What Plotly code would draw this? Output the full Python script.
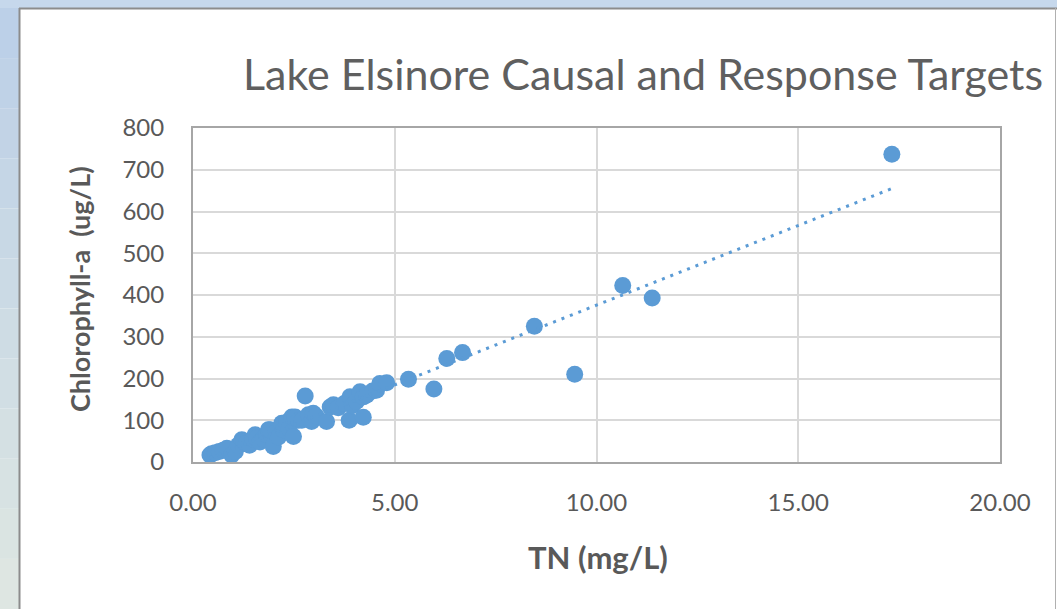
import numpy as np
import plotly.graph_objects as go

# ---- data ----
tn = [0.42, 0.46, 0.55, 0.65, 0.75, 0.84, 0.96, 1.05, 1.12, 1.21, 1.25, 1.32, 1.40,
      1.48, 1.54, 1.58, 1.66, 1.74, 1.82, 1.87, 1.91, 1.99, 2.05, 2.12, 2.20, 2.24,
      2.32, 2.38, 2.45, 2.49, 2.53, 2.62, 2.70, 2.78, 2.86, 2.94, 2.98, 3.05, 3.31,
      3.40, 3.48, 3.60, 3.75, 3.87, 3.89, 3.95, 4.05, 4.14, 4.22, 4.22, 4.30, 4.45,
      4.55, 4.63, 4.80, 5.34, 5.97, 6.29, 6.68, 8.46, 9.46, 10.65, 11.38, 17.32]
chla = [17, 20, 22, 25, 28, 33, 17, 25, 40, 53, 49, 45, 40,
        55, 65, 57, 48, 55, 65, 77, 77, 37, 70, 60, 93, 77,
        95, 80, 108, 61, 108, 100, 100, 158, 113, 97, 117, 110, 97,
        132, 137, 130, 140, 100, 156, 135, 145, 168, 107, 156, 160, 170,
        172, 188, 190, 198, 175, 248, 262, 325, 210, 423, 393, 737]

x_ticks = [0, 5, 10, 15, 20]
x_tick_labels = ["0.00", "5.00", "10.00", "15.00", "20.00"]
y_ticks = [0, 100, 200, 300, 400, 500, 600, 700, 800]

title_text = "Lake Elsinore Causal and Response Targets"
x_title = "TN (mg/L)"
y_title = "Chlorophyll-a&nbsp;&nbsp;(ug/L)"

# ---- linear trendline computed from data ----
slope, intercept = np.polyfit(tn, chla, 1)
trend_x = np.array([min(tn), max(tn)])
trend_y = slope * trend_x + intercept

BLUE = "#5B9BD5"
GREY_TXT = "#595959"
FONT = "Lato"

fig = go.Figure()
fig.add_trace(go.Scatter(x=tn, y=chla, mode="markers",
                         marker=dict(size=17, color=BLUE, line=dict(width=0)),
                         showlegend=False, hoverinfo="skip"))
fig.add_trace(go.Scatter(x=trend_x, y=trend_y, mode="lines",
                         line=dict(color=BLUE, width=3, dash="3px,6px"),
                         showlegend=False, hoverinfo="skip"))

W, H = 1057, 609
L, R, T, B = 193, 1000, 128, 462
pw, ph = R - L, B - T

def px(xp):
    return (xp - L) / pw

def py(yp):
    return (B - yp) / ph

shapes = []
# outer frame (window background gradient), left and top strips
n = 12
for i in range(n):
    y0p = 8 + (H - 8) * i / n
    y1p = 8 + (H - 8) * (i + 1) / n
    t = i / (n - 1)
    c0 = np.array([188, 208, 232])
    c1 = np.array([222, 230, 226])
    c = (c0 * (1 - t) + c1 * t).astype(int)
    shapes.append(dict(type="rect", xref="paper", yref="paper",
                       x0=px(0), x1=px(19), y0=py(y1p), y1=py(y0p),
                       fillcolor="rgb(%d,%d,%d)" % tuple(c), line=dict(width=0), layer="below"))
shapes.append(dict(type="rect", xref="paper", yref="paper",
                   x0=px(0), x1=px(W), y0=py(8), y1=py(0),
                   fillcolor="#c6d8ec", line=dict(width=0), layer="below"))
# chart area border
shapes.append(dict(type="line", xref="paper", yref="paper",
                   x0=px(19.5), x1=px(19.5), y0=py(H), y1=py(8),
                   line=dict(color="#8c8c8c", width=2)))
shapes.append(dict(type="line", xref="paper", yref="paper",
                   x0=px(19), x1=px(W), y0=py(8.5), y1=py(8.5),
                   line=dict(color="#8c8c8c", width=2)))
shapes.append(dict(type="line", xref="paper", yref="paper",
                   x0=px(1055.5), x1=px(1055.5), y0=py(H), y1=py(8),
                   line=dict(color="#b0b0b0", width=1)))

annotations = [
    dict(text=y_title, xref="paper", yref="paper", x=px(79), y=py(289),
         textangle=-90, showarrow=False, xanchor="center", yanchor="middle",
         font=dict(family=FONT, size=27, color=GREY_TXT, weight="bold")),
    dict(text=x_title, xref="paper", yref="paper", x=px(598), y=py(557),
         showarrow=False, xanchor="center", yanchor="middle",
         font=dict(family=FONT, size=31, color=GREY_TXT, weight="bold")),
]

fig.update_layout(
    width=W, height=H,
    margin=dict(l=L, r=W - R, t=T, b=H - B, pad=0),
    paper_bgcolor="white", plot_bgcolor="white",
    title=dict(text=title_text, x=643 / W, y=1 - 75 / H, xref="container", yref="container",
               xanchor="center", yanchor="middle",
               font=dict(family=FONT, size=43, color="#5f5f5f")),
    xaxis=dict(range=[0, 20], tickvals=x_ticks, ticktext=x_tick_labels,
               showgrid=True, gridcolor="#d9d9d9", gridwidth=1.5,
               showline=True, linecolor="#a6a6a6", linewidth=2, mirror=True,
               zeroline=False, ticks="", ticklabelstandoff=18,
               tickfont=dict(family=FONT, size=24, color=GREY_TXT)),
    yaxis=dict(range=[0, 800], tickvals=y_ticks,
               showgrid=True, gridcolor="#d9d9d9", gridwidth=1.5,
               showline=True, linecolor="#a6a6a6", linewidth=2, mirror=True,
               zeroline=False, ticks="", ticklabelstandoff=22,
               tickfont=dict(family=FONT, size=24, color=GREY_TXT)),
    shapes=shapes, annotations=annotations,
)

fig.write_html("out.html", config={"displayModeBar": False},
               post_script="document.body.style.margin='0px';")
